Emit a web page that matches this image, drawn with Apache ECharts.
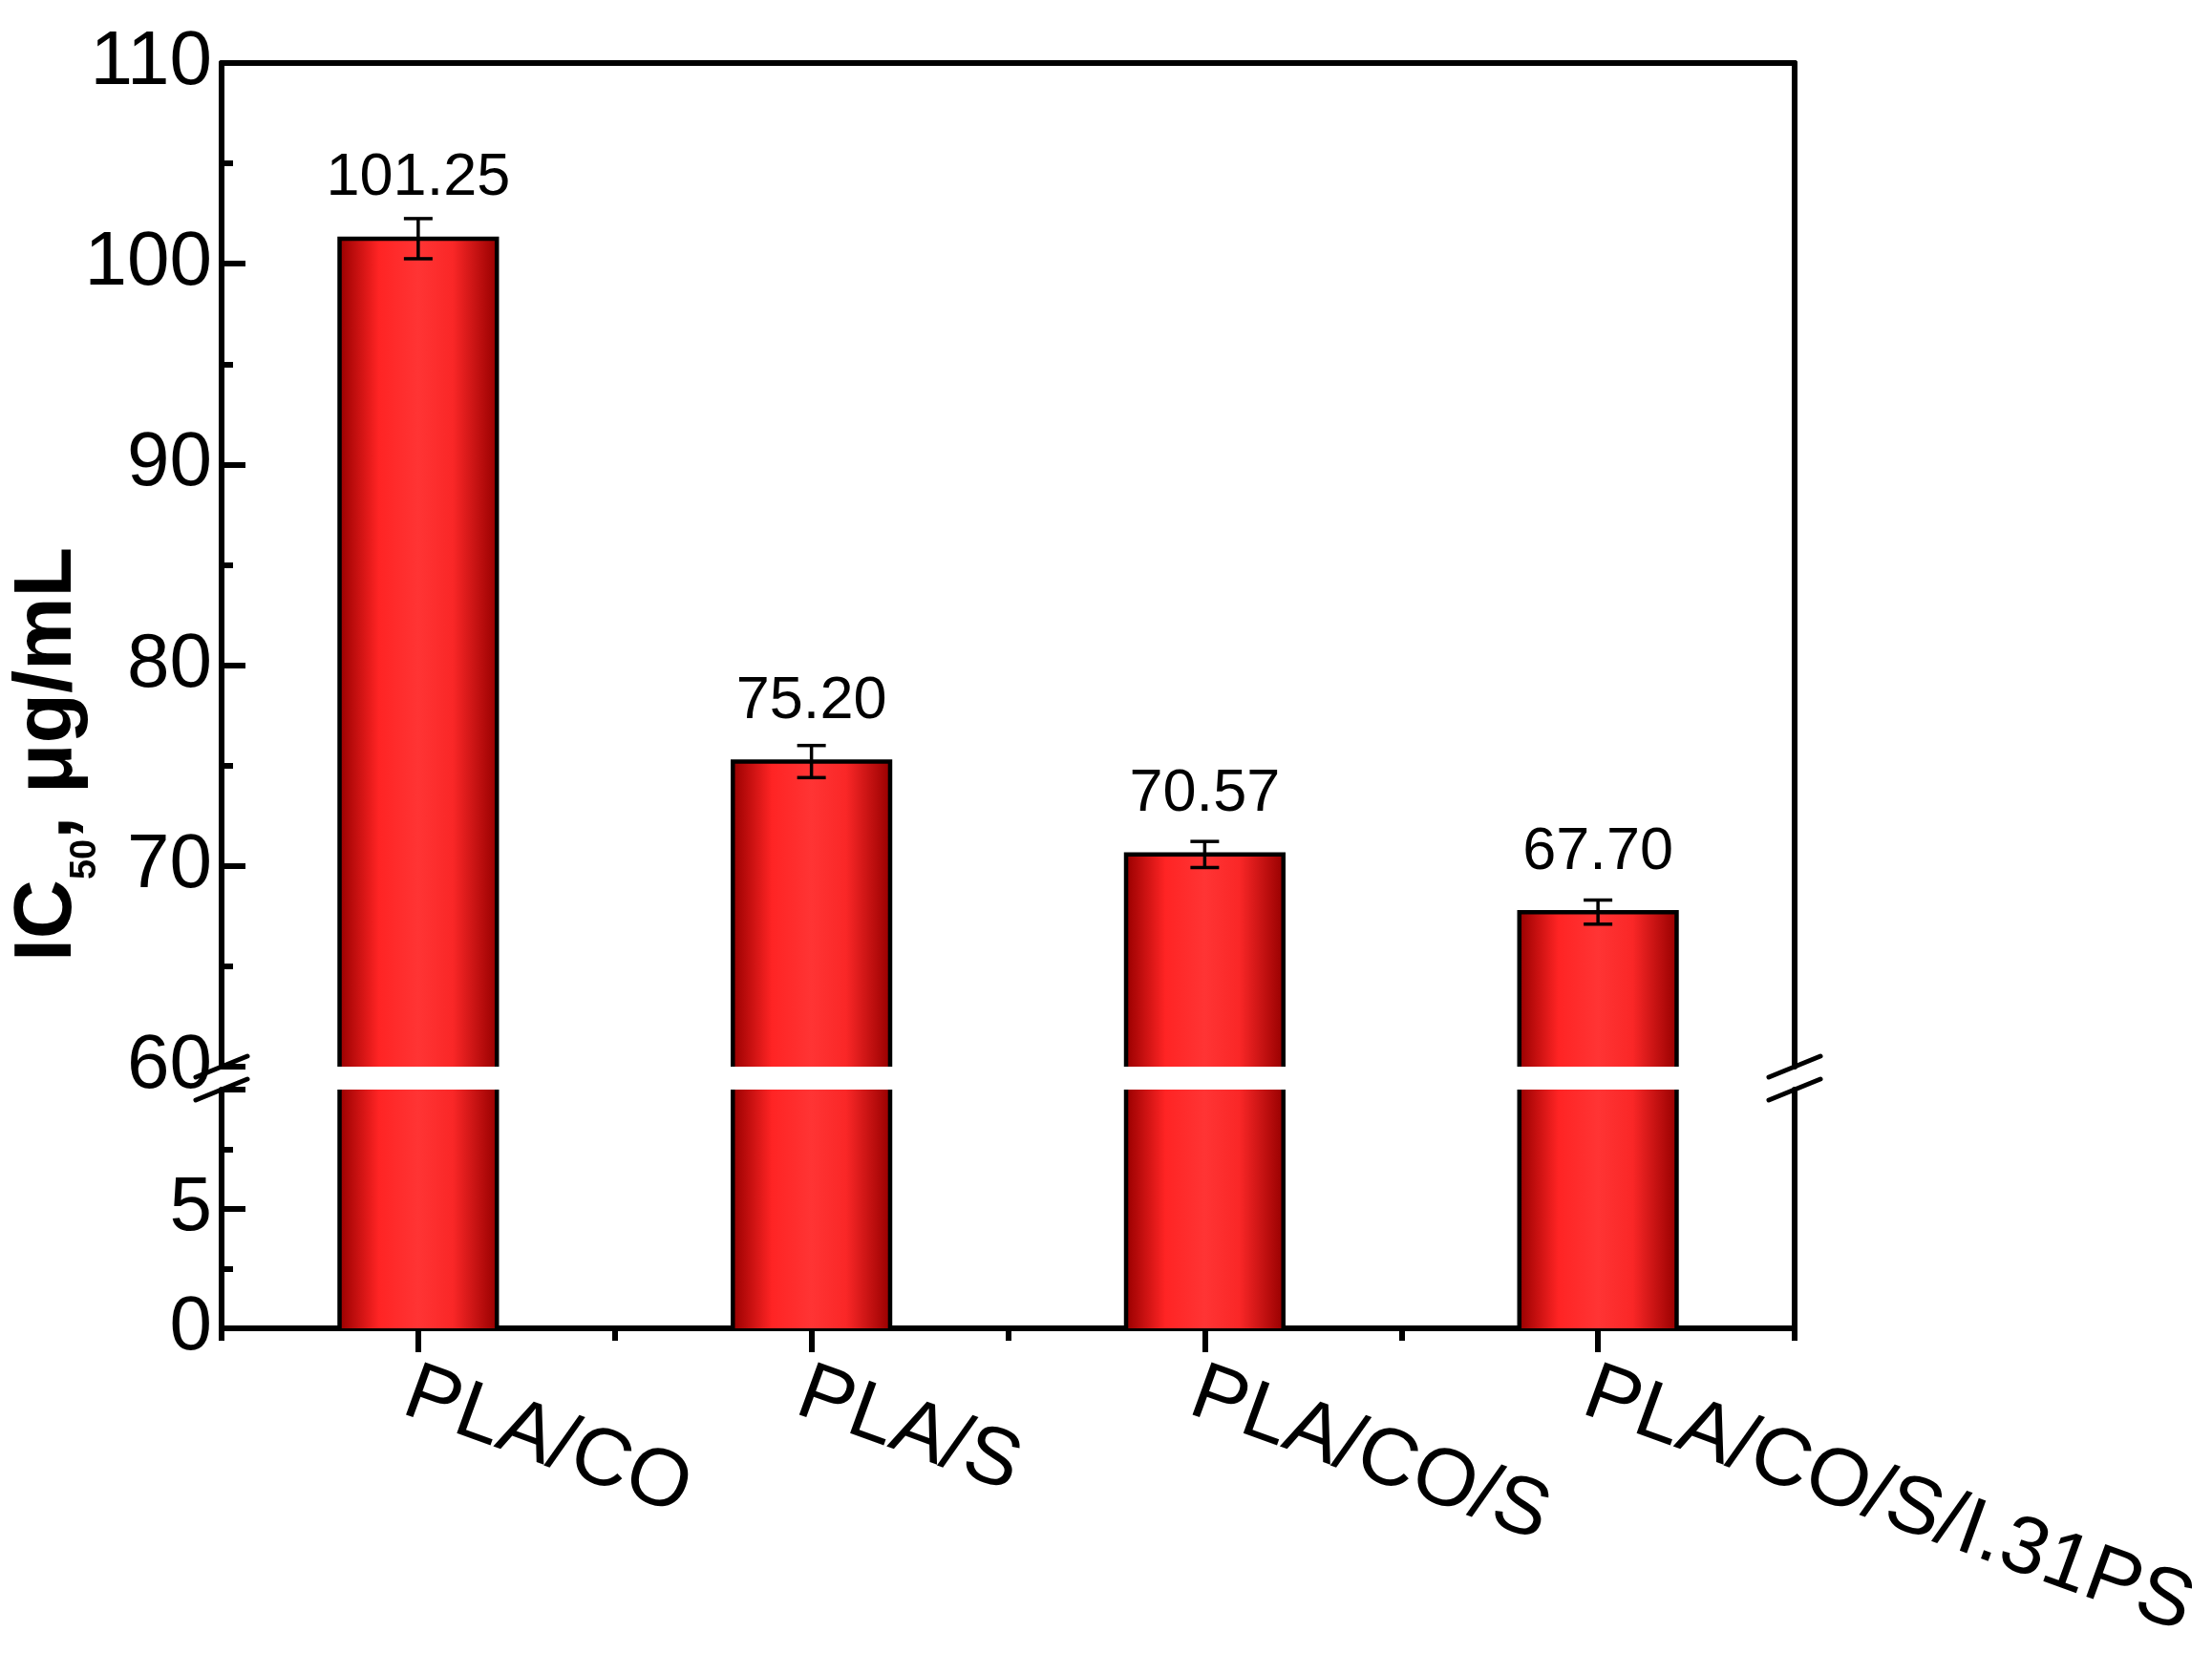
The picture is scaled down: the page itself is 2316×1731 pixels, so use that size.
<!DOCTYPE html>
<html>
<head>
<meta charset="utf-8">
<script src="https://cdn.jsdelivr.net/npm/echarts@6/dist/echarts.min.js"></script>
<style>
  html, body { margin: 0; padding: 0; background: #fff; }
  #chart { width: 2316px; height: 1731px; }
</style>
</head>
<body>
<div id="chart"></div>
<script>
// data
const categories = ['PLA/CO', 'PLA/S', 'PLA/CO/S', 'PLA/CO/S/I.31PS']
const ic50 = [101.25, 75.20, 70.57, 67.70]
const ic50Err = [1.0, 0.8, 0.65, 0.6]
// broken axis: two ranges
const upperRange = [60, 110]
const lowerRange = [0, 10]

const FONT = '"Liberation Sans", Arial, sans-serif'
const barFill = new echarts.graphic.LinearGradient(0, 0, 1, 0, [
  { offset: 0, color: '#990000' },
  { offset: 0.25, color: '#ff2424' },
  { offset: 0.5, color: '#ff3434' },
  { offset: 0.72, color: '#fa2727' },
  { offset: 1, color: '#980000' }
])

const chart = echarts.init(document.getElementById('chart'))

function upperBar(params, api) {
  const i = api.value(0)
  const v = api.value(1)
  const e = api.value(2)
  const top = api.coord([i, v])
  const base = api.coord([i, upperRange[0]])
  const w = api.size([1, 0])[0] * 0.4
  const x0 = top[0] - w / 2
  const hi = api.coord([i, v + e])
  const lo = api.coord([i, v - e])
  const cap = 15
  return {
    type: 'group',
    children: [
      { type: 'rect', shape: { x: x0, y: top[1], width: w, height: base[1] - top[1] }, style: { fill: barFill } },
      { type: 'polyline', shape: { points: [[x0, base[1]], [x0, top[1]], [x0 + w, top[1]], [x0 + w, base[1]]] }, style: { stroke: '#000', lineWidth: 4.5, fill: null } },
      { type: 'line', shape: { x1: hi[0], y1: hi[1], x2: lo[0], y2: lo[1] }, style: { stroke: '#000', lineWidth: 3.5 } },
      { type: 'line', shape: { x1: hi[0] - cap, y1: hi[1], x2: hi[0] + cap, y2: hi[1] }, style: { stroke: '#000', lineWidth: 3.5 } },
      { type: 'line', shape: { x1: lo[0] - cap, y1: lo[1], x2: lo[0] + cap, y2: lo[1] }, style: { stroke: '#000', lineWidth: 3.5 } },
      { type: 'text', x: top[0], y: top[1] - 63, style: { text: v.toFixed(2), fontSize: 63, fontFamily: FONT, fill: '#000', align: 'center', verticalAlign: 'middle' } }
    ]
  }
}

function lowerBar(params, api) {
  const i = api.value(0)
  const v = Math.min(api.value(1), lowerRange[1])
  const top = api.coord([i, v])
  const base = api.coord([i, lowerRange[0]])
  const w = api.size([1, 0])[0] * 0.4
  const x0 = top[0] - w / 2
  return {
    type: 'group',
    children: [
      { type: 'rect', shape: { x: x0, y: top[1], width: w, height: base[1] - top[1] }, style: { fill: barFill } },
      { type: 'line', shape: { x1: x0, y1: top[1], x2: x0, y2: base[1] }, style: { stroke: '#000', lineWidth: 4.5 } },
      { type: 'line', shape: { x1: x0 + w, y1: top[1], x2: x0 + w, y2: base[1] }, style: { stroke: '#000', lineWidth: 4.5 } }
    ]
  }
}

// the // marks on both frame sides at the break
function breakMarks(atBottom) {
  return function (params) {
    const cs = params.coordSys
    const y = atBottom ? cs.y + cs.height : cs.y
    const mk = x => ({ type: 'line', shape: { x1: x - 27, y1: y + 11, x2: x + 27, y2: y - 11 }, style: { stroke: '#000', lineWidth: 5, lineCap: 'round' } })
    return { type: 'group', children: [mk(cs.x), mk(cs.x + cs.width)] }
  }
}

const axisLine = { show: true, lineStyle: { color: '#000', width: 6 } }
const yLabel = { color: '#000', fontSize: 80, fontFamily: FONT, margin: 10 }
const yTick = { show: true, inside: true, length: 25, lineStyle: { color: '#000', width: 6 } }
const yMinor = { show: true, splitNumber: 2, length: 12, lineStyle: { color: '#000', width: 6 } }

chart.setOption({
  backgroundColor: '#fff',
  animation: false,
  grid: [
    { left: 232, right: 437, top: 66, height: 1051, containLabel: false, outerBoundsMode: 'none' },
    { left: 232, right: 437, top: 1141, height: 250, containLabel: false, outerBoundsMode: 'none' }
  ],
  xAxis: [
    { gridIndex: 0, type: 'category', data: categories, position: 'top', axisLine: axisLine, axisTick: { show: false }, axisLabel: { show: false } },
    { gridIndex: 1, type: 'category', data: categories, position: 'bottom', axisLine: axisLine,
      axisTick: { show: true, length: 13, lineStyle: { color: '#000', width: 6 } }, axisLabel: { show: false } },
    { gridIndex: 1, type: 'category', data: categories, position: 'bottom', axisLine: { show: false },
      axisTick: { show: true, alignWithLabel: true, length: 25, lineStyle: { color: '#000', width: 6 } },
      axisLabel: { color: '#000', fontSize: 85, fontFamily: FONT, rotate: -20, margin: 70, interval: 0, padding: [0, 0, 0, -12] } }
  ],
  yAxis: [
    { gridIndex: 0, type: 'value', min: upperRange[0], max: upperRange[1], interval: 10, axisLine: axisLine,
      axisTick: yTick, minorTick: yMinor, splitLine: { show: false }, axisLabel: yLabel },
    { gridIndex: 0, type: 'value', position: 'right', min: upperRange[0], max: upperRange[1], axisLine: axisLine,
      axisTick: { show: false }, axisLabel: { show: false }, splitLine: { show: false } },
    { gridIndex: 1, type: 'value', min: lowerRange[0], max: lowerRange[1], interval: 5, axisLine: axisLine,
      axisTick: yTick, minorTick: yMinor, splitLine: { show: false },
      axisLabel: Object.assign({ showMaxLabel: false }, yLabel) },
    { gridIndex: 1, type: 'value', position: 'right', min: lowerRange[0], max: lowerRange[1], axisLine: axisLine,
      axisTick: { show: false }, axisLabel: { show: false }, splitLine: { show: false } }
  ],
  graphic: [
    {
      type: 'text', x: 50, y: 790, rotation: Math.PI / 2,
      style: {
        text: '{b|IC}{s|50}{b|, μg/mL}',
        align: 'center', verticalAlign: 'middle',
        rich: {
          b: { fontSize: 86, fontWeight: 'bold', fontFamily: FONT, fill: '#000', lineHeight: 86, verticalAlign: 'top' },
          s: { fontSize: 38, fontWeight: 'bold', fontFamily: FONT, fill: '#000', lineHeight: 38, verticalAlign: 'top', padding: [64, 0, 0, 0] }
        }
      }
    }
  ],
  series: [
    { type: 'custom', xAxisIndex: 0, yAxisIndex: 0, renderItem: upperBar, encode: { x: 0, y: 1 },
      data: ic50.map((v, i) => [i, v, ic50Err[i]]), z: 3 },
    { type: 'custom', xAxisIndex: 1, yAxisIndex: 2, renderItem: lowerBar, encode: { x: 0, y: 1 },
      data: ic50.map((v, i) => [i, v]), z: 3 },
    { type: 'custom', xAxisIndex: 0, yAxisIndex: 0, renderItem: breakMarks(true), data: [[0, upperRange[0]]], silent: true, z: 5 },
    { type: 'custom', xAxisIndex: 1, yAxisIndex: 2, renderItem: breakMarks(false), data: [[0, lowerRange[1]]], silent: true, z: 5 }
  ]
})
</script>
</body>
</html>
